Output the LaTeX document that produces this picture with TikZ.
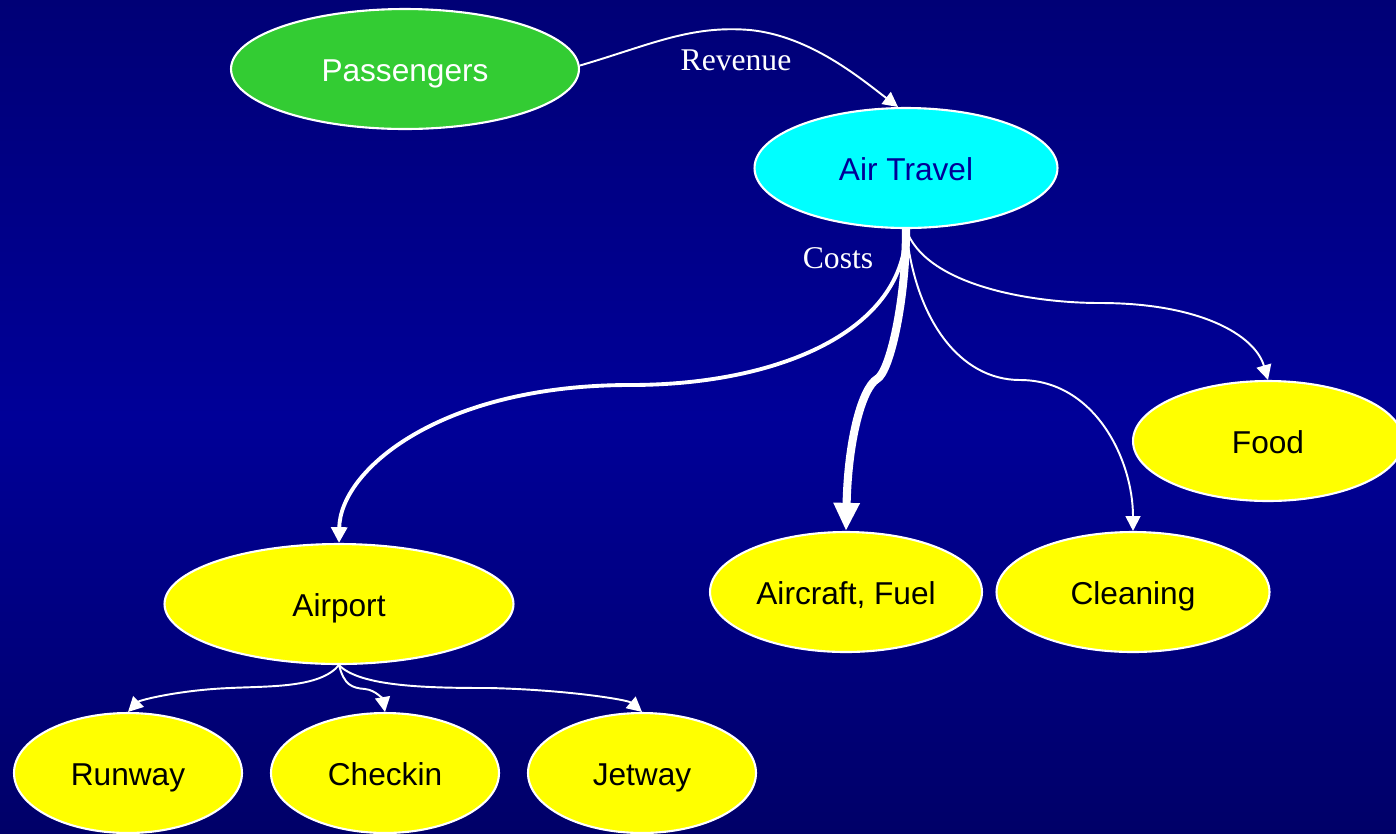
\documentclass[tikz,border=0pt]{standalone}
\usepackage{fontspec}
\setmainfont{Liberation Sans}
\newfontfamily\labelfont{Liberation Serif}
\usetikzlibrary{shapes.geometric,arrows.meta}
\definecolor{bgtop}{RGB}{0,0,118}
\definecolor{bgmid}{RGB}{0,0,152}
\definecolor{bgbot}{RGB}{0,0,104}
\definecolor{pgreen}{RGB}{51,204,51}
\definecolor{atcyan}{RGB}{0,255,255}
\definecolor{atext}{RGB}{0,0,150}
\definecolor{nyellow}{RGB}{255,255,0}
\tikzset{
  bub/.style={ellipse, draw=white, line width=1.2pt, inner sep=0pt,
    minimum width=#1, minimum height=2.4cm, text height=14pt, text depth=0pt,
    font=\fontsize{18}{21}\selectfont},
  bub/.default=4.56cm,
  thinedge/.style={draw=white, line width=1.1pt,
    -{Triangle[length=8.5pt,width=8.5pt]}},
  midedge/.style={draw=white, line width=2.2pt,
    -{Triangle[length=9pt,width=9pt]}},
  thickedge/.style={draw=white, line width=4.6pt,
    -{Triangle[length=16pt,width=14pt]}},
  lbl/.style={text=white, font=\labelfont\fontsize{18}{21}\selectfont}
}
\begin{document}
\begin{tikzpicture}[x=0.02cm,y=-0.02cm]
\useasboundingbox (0,0) rectangle (1396,833);
\clip (0,0) rectangle (1396,833);
\shade[top color=bgtop, bottom color=bgbot, middle color=bgmid] (0,0) rectangle (1396,833);

\node[bub=6.96cm, fill=pgreen, text=white] (pass) at (405,69) {Passengers};
\node[bub=6.06cm, fill=atcyan, text=atext] (air) at (906,168) {Air Travel};
\node[bub=5.4cm, fill=nyellow] (food) at (1268,441) {Food};
\node[bub=5.44cm, fill=nyellow] (craft) at (846,592) {Aircraft, Fuel};
\node[bub=5.46cm, fill=nyellow] (clean) at (1133,592) {Cleaning};
\node[bub=6.98cm, fill=nyellow] (port) at (339,604) {Airport};
\node[bub=4.56cm, fill=nyellow] (run) at (128,773) {Runway};
\node[bub=4.56cm, fill=nyellow] (check) at (385,773) {Checkin};
\node[bub=4.56cm, fill=nyellow] (jet) at (642,773) {Jetway};

\node[lbl] (rev) at (736,60) {Revenue};
\node[lbl] (cost) at (838,258) {Costs};

% Revenue
\draw[thinedge] ([yshift=2pt]pass.east) .. controls (650,45) and (690,25) .. (750,30)
  .. controls (810,36) and (860,78) .. ([xshift=-0.16cm]air.north);

% Costs
\draw[midedge] (air.south) .. controls (906,330) and (780,385) .. (630,385)
  .. controls (440,385) and (340,470) .. (port.north);
\draw[thickedge] (air.south) .. controls (906,300) and (890,372) .. (877,379)
  .. controls (862,388) and (848,440) .. (craft.north);
\draw[thinedge] (air.south) .. controls (915,320) and (960,380) .. (1020,380)
  .. controls (1095,380) and (1133,460) .. (clean.north);
\draw[thinedge] (air.south) .. controls (925,285) and (1030,303) .. (1100,303)
  .. controls (1200,303) and (1255,335) .. (food.north);

% Airport children
\draw[thinedge] (port.south) .. controls (320,688) and (270,686) .. (230,688)
  .. controls (180,690) and (140,700) .. (run.north);
\draw[thinedge] (port.south) .. controls (344,685) and (352,688) .. (365,689)
  .. controls (376,690) and (383,700) .. (check.north);
\draw[thinedge] (port.south) .. controls (360,687) and (430,688) .. (490,688)
  .. controls (570,690) and (628,700) .. (jet.north);
\end{tikzpicture}
\end{document}
